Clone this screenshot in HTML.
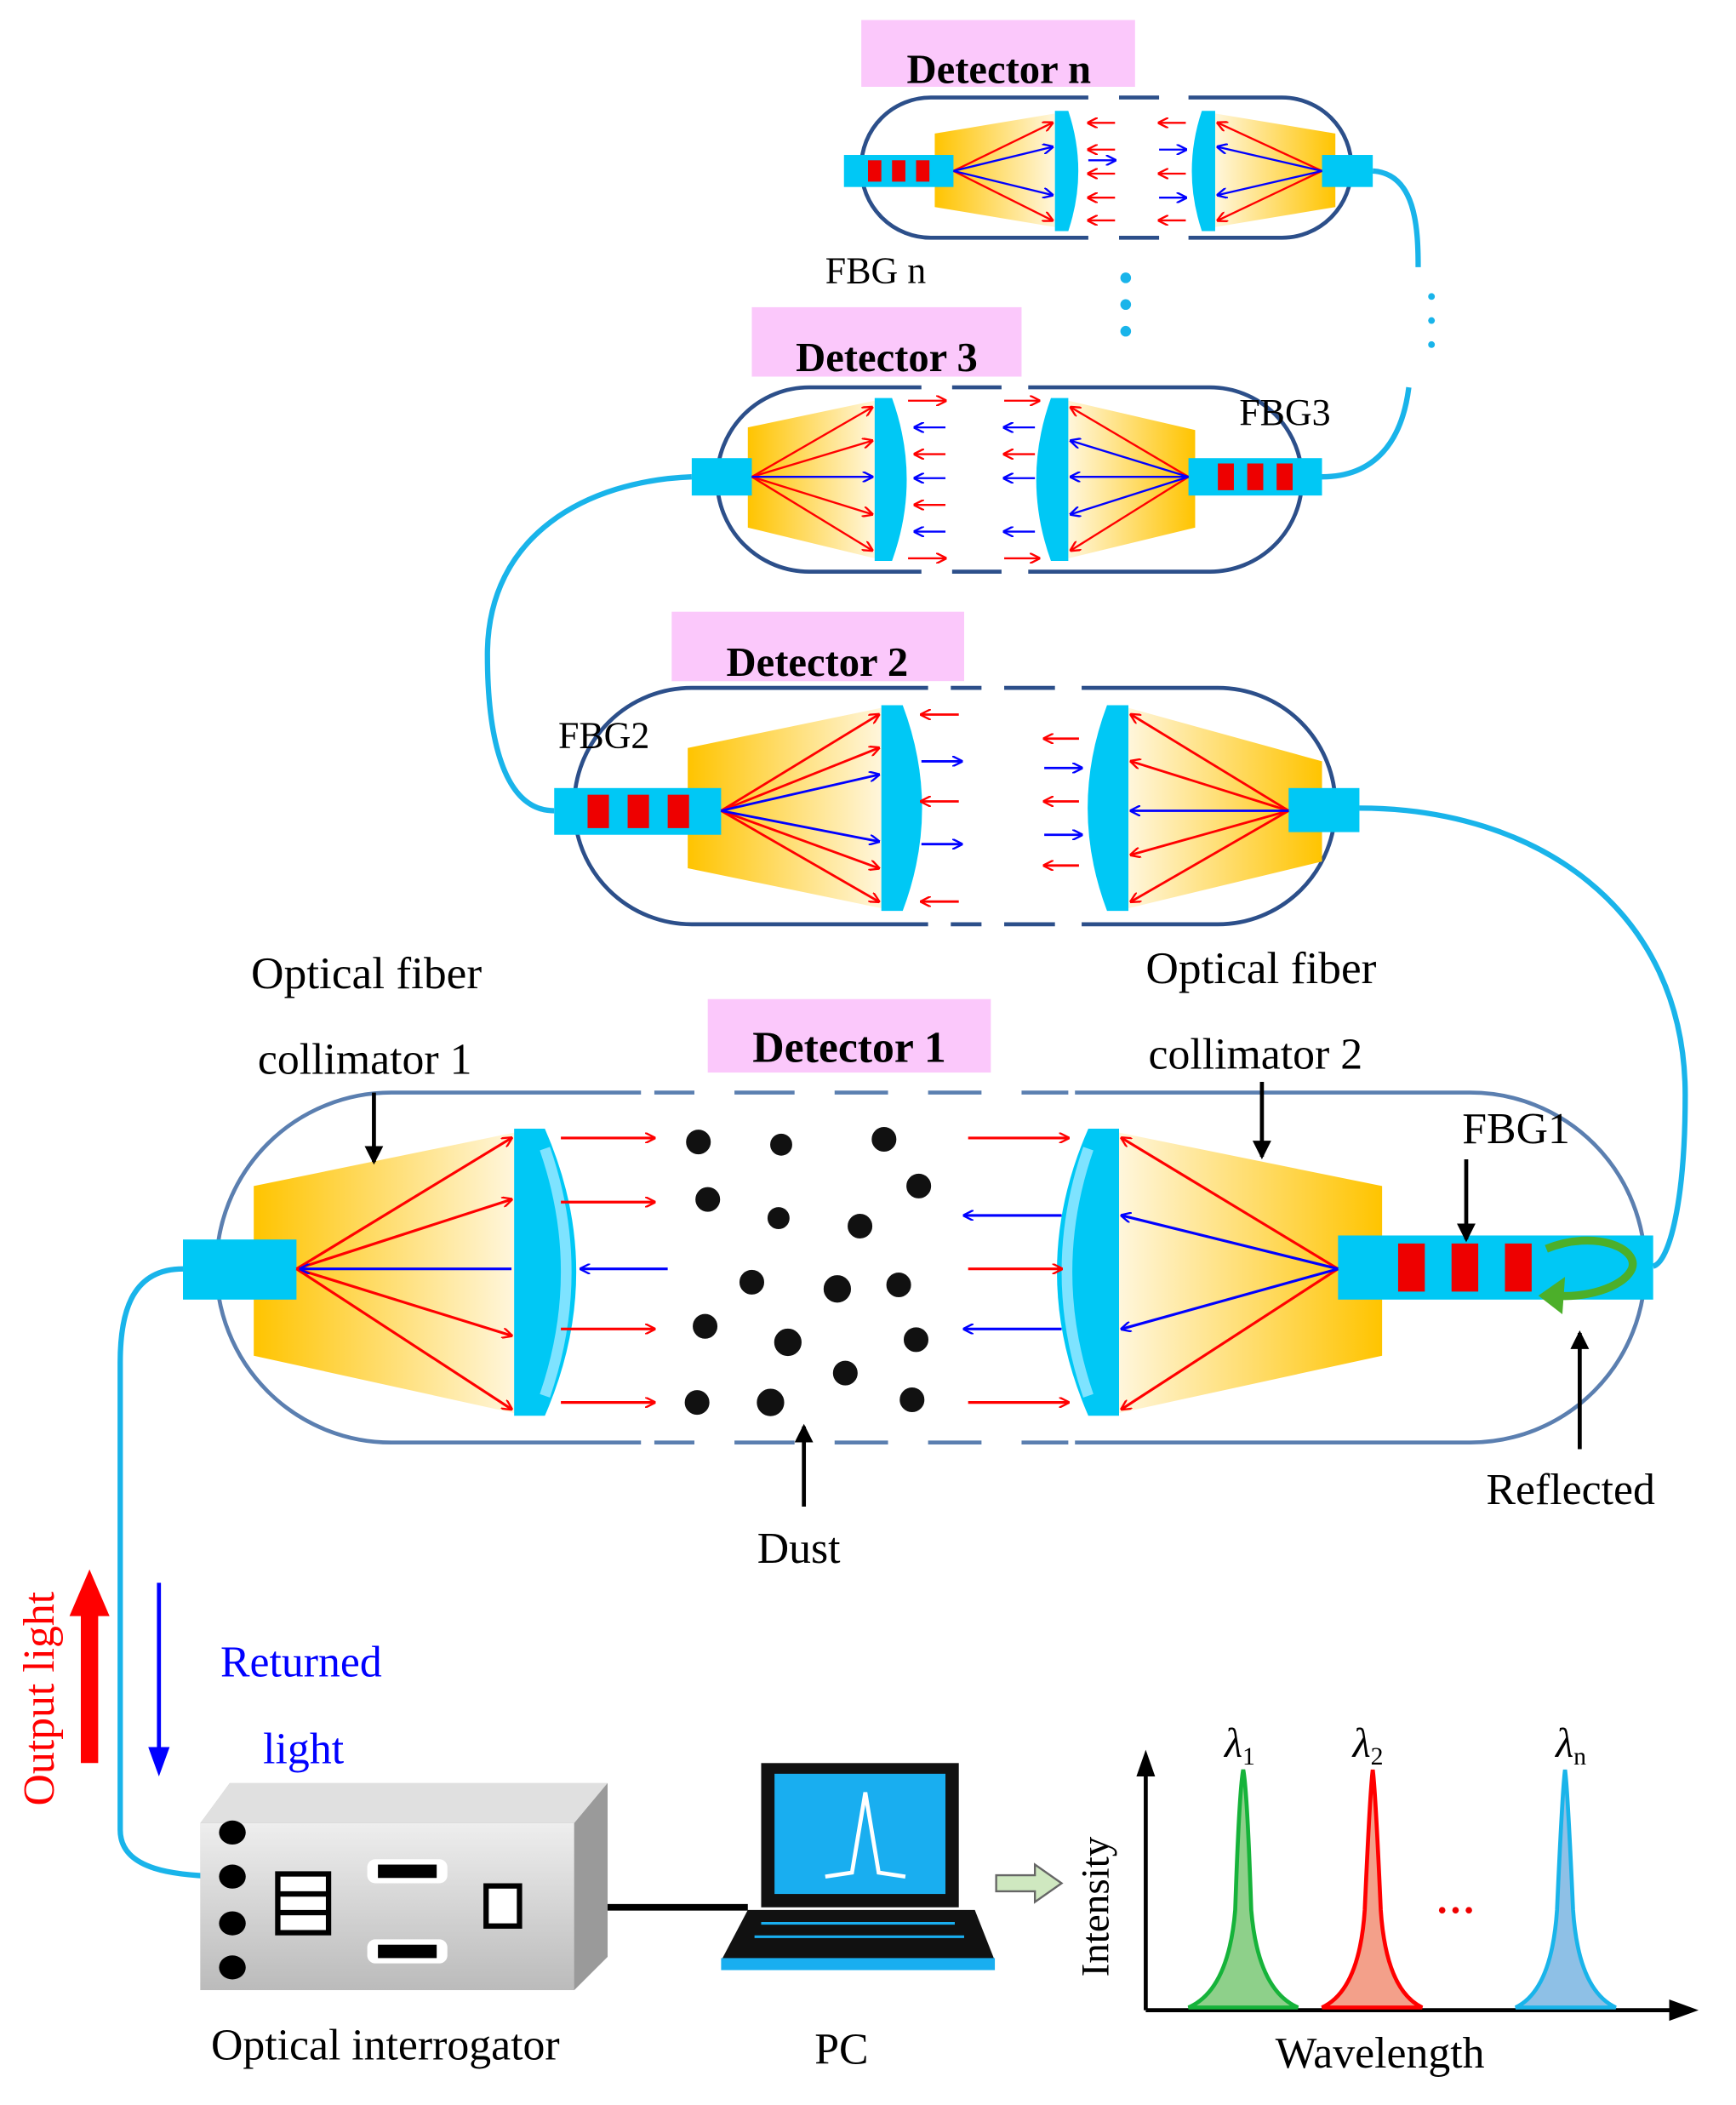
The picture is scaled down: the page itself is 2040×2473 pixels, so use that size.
<!DOCTYPE html>
<html><head><meta charset="utf-8"><style>html,body{margin:0;padding:0;background:#fff}svg{display:block}text{font-family:"Liberation Serif",serif}</style></head><body>
<svg width="2040" height="2473" viewBox="0 0 1300 1576" xmlns="http://www.w3.org/2000/svg">
<defs>
<linearGradient id="gl" x1="0" x2="1" y1="0" y2="0"><stop offset="0" stop-color="#ffc400"/><stop offset="1" stop-color="#fff6dc"/></linearGradient>
<linearGradient id="gr" x1="1" x2="0" y1="0" y2="0"><stop offset="0" stop-color="#ffc400"/><stop offset="1" stop-color="#fff6dc"/></linearGradient>
<marker id="ar" markerWidth="8" markerHeight="8" refX="7" refY="4" orient="auto" markerUnits="userSpaceOnUse"><path d="M0,0 L8,4 L0,8" fill="none" stroke="#f00" stroke-width="1.5"/></marker>
<marker id="ab" markerWidth="8" markerHeight="8" refX="7" refY="4" orient="auto" markerUnits="userSpaceOnUse"><path d="M0,0 L8,4 L0,8" fill="none" stroke="#00f" stroke-width="1.5"/></marker>
<marker id="ak" markerWidth="14" markerHeight="14" refX="12" refY="7" orient="auto" markerUnits="userSpaceOnUse"><path d="M0,0 L14,7 L0,14 z" fill="#000"/></marker>
<linearGradient id="box" x1="0" x2="0" y1="0" y2="1"><stop offset="0" stop-color="#eee"/><stop offset="1" stop-color="#bbb"/></linearGradient>
</defs>

<g fill="none" stroke="#19b4ea" stroke-width="4">
<path d="M1028,128 C1060,130 1062,170 1062,200"/>
<path d="M1055,290 C1050,330 1030,357 990,357"/>
<path d="M518,357 C440,360 365,400 365,490 C365,560 380,607 415,607"/>
<path d="M1018,605 C1150,605 1262,680 1262,820 C1262,900 1250,945 1238,948"/>
<path d="M137,950 C100,950 90,980 90,1020 L90,1370 C90,1400 130,1405 175,1405"/>
</g>
<g fill="#19b4ea"><circle cx="1072" cy="222" r="2.5"/><circle cx="1072" cy="240" r="2.5"/><circle cx="1072" cy="258" r="2.5"/>
<circle cx="843" cy="208" r="4"/><circle cx="843" cy="228" r="4"/><circle cx="843" cy="248" r="4"/></g>

<rect x="645" y="15" width="205" height="50" fill="#fbc8fb"/>
<text x="748" y="62" font-size="31" font-weight="bold" text-anchor="middle">Detector n</text>
<rect x="645" y="73" width="367" height="105" rx="52" fill="none" stroke="#2c4f8a" stroke-width="3"/>
<rect x="815" y="68" width="75" height="115" fill="#fff"/>
<g stroke="#2c4f8a" stroke-width="3"><line x1="838" y1="73" x2="868" y2="73"/><line x1="838" y1="178" x2="868" y2="178"/></g>
<polygon points="700,100 790,85 790,170 700,155" fill="url(#gl)"/>
<polygon points="910,85 1000,100 1000,155 910,170" fill="url(#gr)"/>
<path d="M790,83 L800,83 Q815,128 800,173 L790,173 z" fill="#00c8f5"/>
<path d="M910,83 L900,83 Q885,128 900,173 L910,173 z" fill="#00c8f5"/>
<rect x="632" y="116" width="82" height="24" fill="#00c8f5"/>
<g fill="#e00"><rect x="650" y="120" width="10" height="16"/><rect x="668" y="120" width="10" height="16"/><rect x="686" y="120" width="10" height="16"/></g>
<rect x="990" y="116" width="38" height="24" fill="#00c8f5"/>
<g stroke="#f00" stroke-width="1.5" marker-end="url(#ar)"><line x1="714" y1="128" x2="788" y2="92"/><line x1="714" y1="128" x2="788" y2="165"/><line x1="990" y1="128" x2="912" y2="92"/><line x1="990" y1="128" x2="912" y2="165"/>
<line x1="835" y1="92" x2="815" y2="92"/><line x1="835" y1="112" x2="815" y2="112"/><line x1="835" y1="130" x2="815" y2="130"/><line x1="835" y1="148" x2="815" y2="148"/><line x1="835" y1="165" x2="815" y2="165"/>
<line x1="888" y1="92" x2="868" y2="92"/><line x1="888" y1="130" x2="868" y2="130"/><line x1="888" y1="165" x2="868" y2="165"/></g>
<g stroke="#00f" stroke-width="1.5" marker-end="url(#ab)"><line x1="714" y1="128" x2="788" y2="110"/><line x1="714" y1="128" x2="788" y2="146"/><line x1="990" y1="128" x2="912" y2="110"/><line x1="990" y1="128" x2="912" y2="146"/>
<line x1="815" y1="120" x2="835" y2="120"/><line x1="868" y1="112" x2="888" y2="112"/><line x1="868" y1="148" x2="888" y2="148"/></g>
<text x="618" y="212" font-size="28">FBG n</text>

<rect x="563" y="230" width="202" height="52" fill="#fbc8fb"/>
<text x="664" y="278" font-size="31" font-weight="bold" text-anchor="middle">Detector 3</text>
<rect x="537" y="290" width="438" height="138" rx="69" fill="none" stroke="#2c4f8a" stroke-width="3"/>
<rect x="690" y="285" width="80" height="148" fill="#fff"/>
<g stroke="#2c4f8a" stroke-width="3"><line x1="713" y1="290" x2="750" y2="290"/><line x1="713" y1="428" x2="750" y2="428"/></g>
<polygon points="560,320 655,300 655,418 560,395" fill="url(#gl)"/>
<polygon points="800,300 895,322 895,395 800,418" fill="url(#gr)"/>
<path d="M655,298 L668,298 Q690,359 668,420 L655,420 z" fill="#00c8f5"/>
<path d="M800,298 L787,298 Q765,359 787,420 L800,420 z" fill="#00c8f5"/>
<rect x="518" y="343" width="45" height="28" fill="#00c8f5"/>
<rect x="890" y="343" width="100" height="28" fill="#00c8f5"/>
<g fill="#e00"><rect x="912" y="347" width="12" height="20"/><rect x="934" y="347" width="12" height="20"/><rect x="956" y="347" width="12" height="20"/></g>
<g stroke="#f00" stroke-width="1.5" marker-end="url(#ar)"><line x1="563" y1="357" x2="653" y2="305"/><line x1="563" y1="357" x2="653" y2="330"/><line x1="563" y1="357" x2="653" y2="385"/><line x1="563" y1="357" x2="653" y2="412"/>
<line x1="890" y1="357" x2="802" y2="305"/><line x1="890" y1="357" x2="802" y2="412"/>
<line x1="680" y1="300" x2="708" y2="300"/><line x1="680" y1="418" x2="708" y2="418"/><line x1="752" y1="300" x2="778" y2="300"/><line x1="752" y1="418" x2="778" y2="418"/>
<line x1="708" y1="340" x2="685" y2="340"/><line x1="708" y1="378" x2="685" y2="378"/><line x1="775" y1="340" x2="752" y2="340"/></g>
<g stroke="#00f" stroke-width="1.5" marker-end="url(#ab)"><line x1="563" y1="357" x2="653" y2="357"/><line x1="890" y1="357" x2="802" y2="330"/><line x1="890" y1="357" x2="802" y2="385"/><line x1="890" y1="357" x2="802" y2="357"/>
<line x1="708" y1="320" x2="685" y2="320"/><line x1="708" y1="358" x2="685" y2="358"/><line x1="708" y1="398" x2="685" y2="398"/><line x1="775" y1="320" x2="752" y2="320"/><line x1="775" y1="358" x2="752" y2="358"/><line x1="775" y1="398" x2="752" y2="398"/></g>
<text x="928" y="318" font-size="28">FBG3</text>

<rect x="503" y="458" width="219" height="52" fill="#fbc8fb"/>
<text x="612" y="506" font-size="31" font-weight="bold" text-anchor="middle">Detector 2</text>
<rect x="430" y="515" width="570" height="177" rx="88" fill="none" stroke="#2c4f8a" stroke-width="3"/>
<rect x="695" y="510" width="115" height="187" fill="#fff"/>
<g stroke="#2c4f8a" stroke-width="3"><line x1="712" y1="515" x2="735" y2="515"/><line x1="752" y1="515" x2="790" y2="515"/><line x1="712" y1="692" x2="735" y2="692"/><line x1="752" y1="692" x2="790" y2="692"/></g>
<polygon points="515,560 660,530 660,680 515,650" fill="url(#gl)"/>
<polygon points="845,530 990,570 990,645 845,680" fill="url(#gr)"/>
<path d="M660,528 L676,528 Q705,605 676,682 L660,682 z" fill="#00c8f5"/>
<path d="M845,528 L829,528 Q800,605 829,682 L845,682 z" fill="#00c8f5"/>
<rect x="415" y="590" width="125" height="35" fill="#00c8f5"/>
<g fill="#e00"><rect x="440" y="595" width="16" height="25"/><rect x="470" y="595" width="16" height="25"/><rect x="500" y="595" width="16" height="25"/></g>
<rect x="965" y="590" width="53" height="33" fill="#00c8f5"/>
<g stroke="#f00" stroke-width="1.8" marker-end="url(#ar)"><line x1="540" y1="607" x2="658" y2="535"/><line x1="540" y1="607" x2="658" y2="560"/><line x1="540" y1="607" x2="658" y2="650"/><line x1="540" y1="607" x2="658" y2="675"/>
<line x1="965" y1="607" x2="847" y2="535"/><line x1="965" y1="607" x2="847" y2="570"/><line x1="965" y1="607" x2="847" y2="640"/><line x1="965" y1="607" x2="847" y2="675"/>
<line x1="718" y1="535" x2="690" y2="535"/><line x1="718" y1="600" x2="690" y2="600"/><line x1="718" y1="675" x2="690" y2="675"/><line x1="808" y1="553" x2="782" y2="553"/><line x1="808" y1="600" x2="782" y2="600"/><line x1="808" y1="648" x2="782" y2="648"/></g>
<g stroke="#00f" stroke-width="1.8" marker-end="url(#ab)"><line x1="540" y1="607" x2="658" y2="580"/><line x1="540" y1="607" x2="658" y2="630"/><line x1="965" y1="607" x2="847" y2="607"/>
<line x1="690" y1="570" x2="720" y2="570"/><line x1="690" y1="632" x2="720" y2="632"/><line x1="782" y1="575" x2="810" y2="575"/><line x1="782" y1="625" x2="810" y2="625"/></g>
<text x="418" y="560" font-size="28">FBG2</text>

<text x="188" y="740" font-size="34">Optical fiber</text>
<text x="858" y="736" font-size="34">Optical fiber</text>
<text x="193" y="804" font-size="33">collimator  1</text>
<text x="860" y="800" font-size="33">collimator  2</text>

<rect x="530" y="748" width="212" height="55" fill="#fbc8fb"/>
<text x="636" y="795" font-size="33" font-weight="bold" text-anchor="middle">Detector 1</text>
<rect x="162" y="818" width="1070" height="262" rx="131" fill="none" stroke="#5b7fb0" stroke-width="3"/>
<rect x="480" y="812" width="325" height="275" fill="#fff"/>
<g stroke="#5b7fb0" stroke-width="3"><path d="M490,818 H520 M550,818 H595 M625,818 H665 M695,818 H735 M765,818 H800 M490,1080 H520 M550,1080 H595 M625,1080 H665 M695,1080 H735 M765,1080 H800"/></g>
<polygon points="190,888 385,848 385,1058 190,1015" fill="url(#gl)"/>
<polygon points="838,848 1035,888 1035,1015 838,1058" fill="url(#gr)"/>
<path d="M385,845 L408,845 Q455,952 408,1060 L385,1060 z" fill="#00c8f5"/>
<path d="M408,860 Q440,952 408,1045" fill="none" stroke="#7ee3ff" stroke-width="8"/>
<path d="M838,845 L815,845 Q768,952 815,1060 L838,1060 z" fill="#00c8f5"/>
<path d="M815,860 Q783,952 815,1045" fill="none" stroke="#7ee3ff" stroke-width="8"/>
<rect x="137" y="928" width="85" height="45" fill="#00c8f5"/>
<rect x="1002" y="925" width="236" height="48" fill="#00c8f5"/>
<g fill="#e00"><rect x="1047" y="931" width="20" height="36"/><rect x="1087" y="931" width="20" height="36"/><rect x="1127" y="931" width="20" height="36"/></g>
<g stroke="#f00" stroke-width="2" marker-end="url(#ar)"><line x1="222" y1="950" x2="383" y2="852"/><line x1="222" y1="950" x2="383" y2="898"/><line x1="222" y1="950" x2="383" y2="1000"/><line x1="222" y1="950" x2="383" y2="1055"/>
<line x1="1002" y1="950" x2="840" y2="852"/><line x1="1002" y1="950" x2="840" y2="1055"/>
<line x1="420" y1="852" x2="490" y2="852"/><line x1="420" y1="900" x2="490" y2="900"/><line x1="420" y1="995" x2="490" y2="995"/><line x1="420" y1="1050" x2="490" y2="1050"/>
<line x1="725" y1="852" x2="800" y2="852"/><line x1="725" y1="950" x2="795" y2="950"/><line x1="725" y1="1050" x2="800" y2="1050"/></g>
<g stroke="#00f" stroke-width="2" marker-end="url(#ab)"><line x1="383" y1="950" x2="225" y2="950"/><line x1="1002" y1="950" x2="840" y2="910"/><line x1="1002" y1="950" x2="840" y2="995"/>
<line x1="500" y1="950" x2="435" y2="950"/><line x1="795" y1="910" x2="722" y2="910"/><line x1="795" y1="995" x2="722" y2="995"/></g>
<g fill="#111" stroke="#fff" stroke-width="1.5">
<circle cx="523" cy="855" r="10"/><circle cx="585" cy="857" r="9"/><circle cx="662" cy="853" r="10"/><circle cx="530" cy="898" r="10"/><circle cx="688" cy="888" r="10"/><circle cx="583" cy="912" r="9"/><circle cx="644" cy="918" r="10"/><circle cx="563" cy="960" r="10"/><circle cx="627" cy="965" r="11"/><circle cx="673" cy="962" r="10"/><circle cx="528" cy="993" r="10"/><circle cx="590" cy="1005" r="11"/><circle cx="686" cy="1003" r="10"/><circle cx="633" cy="1028" r="10"/><circle cx="522" cy="1050" r="10"/><circle cx="577" cy="1050" r="11"/><circle cx="683" cy="1048" r="10"/></g>
<path d="M1158,935 C1195,920 1228,935 1222,950 C1215,965 1185,972 1165,970" fill="none" stroke="#4caf2a" stroke-width="6"/>
<path d="M1152,970 L1172,956 L1170,984 z" fill="#4caf2a"/>
<g stroke="#000" stroke-width="3" marker-end="url(#ak)"><line x1="280" y1="818" x2="280" y2="870"/><line x1="945" y1="810" x2="945" y2="866"/><line x1="1098" y1="868" x2="1098" y2="928"/><line x1="602" y1="1128" x2="602" y2="1068"/><line x1="1183" y1="1085" x2="1183" y2="998"/></g>
<text x="1095" y="856" font-size="33">FBG1</text>
<text x="1113" y="1126" font-size="33">Reflected</text>
<text x="567" y="1170" font-size="33">Dust</text>

<line x1="67" y1="1320" x2="67" y2="1205" stroke="#f00" stroke-width="13"/>
<path d="M52,1210 L67,1175 L82,1210 z" fill="#f00"/>
<text transform="translate(40,1352) rotate(-90)" font-size="33" fill="#f00">Output light</text>
<line x1="119" y1="1185" x2="119" y2="1318" stroke="#00f" stroke-width="3"/>
<path d="M111,1308 L119,1330 L127,1308 z" fill="#00f"/>
<text x="165" y="1255" font-size="33" fill="#00f">Returned</text>
<text x="197" y="1320" font-size="33" fill="#00f">light</text>

<path d="M150,1365 L172,1335 L455,1335 L455,1465 L430,1490 L150,1490 z" fill="#aaa"/>
<rect x="150" y="1365" width="280" height="125" fill="url(#box)"/>
<path d="M150,1365 L172,1335 L455,1335 L430,1365 z" fill="#e0e0e0"/>
<path d="M430,1365 L455,1335 L455,1465 L430,1490 z" fill="#9a9a9a"/>
<g fill="#000"><ellipse cx="174" cy="1372" rx="10" ry="9"/><ellipse cx="174" cy="1405" rx="10" ry="9"/><ellipse cx="174" cy="1440" rx="10" ry="9"/><ellipse cx="174" cy="1473" rx="10" ry="9"/></g>
<rect x="208" y="1403" width="38" height="44" fill="#fff" stroke="#000" stroke-width="4"/><line x1="208" y1="1418" x2="246" y2="1418" stroke="#000" stroke-width="4"/><line x1="208" y1="1432" x2="246" y2="1432" stroke="#000" stroke-width="4"/>
<rect x="275" y="1392" width="60" height="18" rx="6" fill="#fff"/><rect x="283" y="1396" width="44" height="10" fill="#000"/>
<rect x="275" y="1452" width="60" height="18" rx="6" fill="#fff"/><rect x="283" y="1456" width="44" height="10" fill="#000"/>
<rect x="364" y="1412" width="25" height="30" fill="#fff" stroke="#000" stroke-width="4"/>
<line x1="455" y1="1428" x2="560" y2="1428" stroke="#000" stroke-width="5"/>
<text x="158" y="1542" font-size="33">Optical interrogator</text>

<rect x="570" y="1320" width="148" height="108" fill="#111"/>
<rect x="580" y="1328" width="128" height="90" fill="#19aef0"/>
<path d="M618,1405 L638,1402 Q645,1360 648,1342 Q651,1360 658,1402 L678,1405" fill="none" stroke="#fff" stroke-width="3"/>
<path d="M560,1430 L730,1430 L745,1468 L540,1468 z" fill="#111"/>
<rect x="540" y="1466" width="205" height="9" fill="#19aef0"/>
<g stroke="#19aef0" stroke-width="2"><line x1="570" y1="1440" x2="715" y2="1440"/><line x1="565" y1="1450" x2="722" y2="1450"/></g>
<text x="610" y="1545" font-size="33">PC</text>
<path d="M746,1404 L775,1404 L775,1396 L795,1410 L775,1424 L775,1416 L746,1416 z" fill="#cfe8c0" stroke="#666" stroke-width="1.5"/>

<line x1="858" y1="1505" x2="858" y2="1318" stroke="#000" stroke-width="3"/>
<path d="M851,1330 L858,1310 L865,1330 z" fill="#000"/>
<line x1="858" y1="1505" x2="1260" y2="1505" stroke="#000" stroke-width="3"/>
<path d="M1250,1497 L1272,1505 L1250,1513 z" fill="#000"/>
<path d="M890,1503 Q920,1490 925,1430 Q928,1340 931,1325 Q934,1340 937,1430 Q942,1490 972,1503 z" fill="#8ed08a" stroke="#16b33a" stroke-width="3"/>
<path d="M990,1503 Q1018,1490 1022,1430 Q1026,1340 1028,1325 Q1030,1340 1034,1430 Q1038,1490 1065,1503 z" fill="#f3a08a" stroke="#f00" stroke-width="3"/>
<path d="M1135,1503 Q1162,1490 1166,1430 Q1170,1340 1172,1325 Q1174,1340 1178,1430 Q1182,1490 1210,1503 z" fill="#8ec0e6" stroke="#19b4ea" stroke-width="3"/>
<text x="1075" y="1440" font-size="30" fill="#e00" font-weight="bold">···</text>
<text x="917" y="1315" font-size="31" font-style="italic">λ<tspan font-size="19" dy="6" font-style="normal">1</tspan></text>
<text x="1013" y="1315" font-size="31" font-style="italic">λ<tspan font-size="19" dy="6" font-style="normal">2</tspan></text>
<text x="1165" y="1315" font-size="31" font-style="italic">λ<tspan font-size="19" dy="6" font-style="normal">n</tspan></text>
<text transform="translate(830,1480) rotate(-90)" font-size="30">Intensity</text>
<text x="955" y="1548" font-size="33">Wavelength</text>
</svg>
</body></html>
